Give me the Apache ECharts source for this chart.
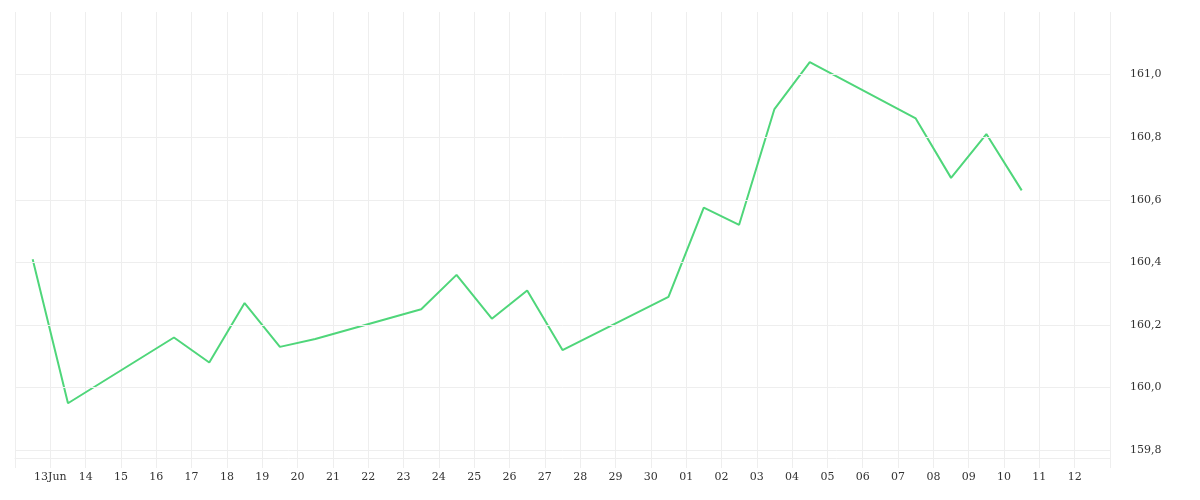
<!DOCTYPE html>
<html><head><meta charset="utf-8">
<script src="https://cdn.jsdelivr.net/npm/echarts@6/dist/echarts.min.js"></script>
<style>html,body{margin:0;padding:0;background:#fff}#c{width:1200px;height:500px}</style>
</head><body><div id="c"></div>
<script>
// dates as [month (0-based), day, hour]
const pointDates = [[5,12,12],[5,13,12],[5,16,12],[5,17,12],[5,18,12],[5,19,12],[5,20,12],[5,23,12],[5,24,12],[5,25,12],[5,26,12],[5,27,12],[5,30,12],[6,1,12],[6,2,12],[6,3,12],[6,4,12],[6,7,12],[6,8,12],[6,9,12],[6,10,12]];
const values = [160.41,159.95,160.16,160.08,160.27,160.13,160.155,160.25,160.36,160.22,160.31,160.12,160.29,160.575,160.52,160.89,161.04,160.86,160.67,160.81,160.63];
const yTicks = [159.8,160.0,160.2,160.4,160.6,160.8,161.0];
const YEAR = 2024;
const data = pointDates.map((d,i)=>[new Date(YEAR,d[0],d[1],d[2]).getTime(), values[i]]);
const font = 'DejaVu Serif';
const chart = echarts.init(document.getElementById('c'));
chart.setOption({
  animation:false,
  grid:{left:15,right:90,top:12,bottom:42},
  xAxis:{type:'time', min:new Date(YEAR,5,12).getTime(), max:new Date(YEAR,6,13).getTime(),
    minInterval:86400000, maxInterval:86400000,
    axisLine:{show:true,lineStyle:{color:'#eeeeee'}},
    axisTick:{show:true,length:10,lineStyle:{color:'#eeeeee'}},
    splitLine:{show:true,lineStyle:{color:'#eeeeee'}},
    axisLabel:{color:'#333',fontFamily:font,fontSize:11,margin:14,hideOverlap:false,
      formatter:function(v){const d=new Date(v);const m=d.getMonth(),day=d.getDate();
        if((m===5&&day===12)||(m===6&&day===13))return '';
        const s=(day<10?'0':'')+day; return (m===5&&day===13)?s+'Jun':s;}}
  },
  yAxis:{type:'value', position:'right', min:159.775, max:161.2, interval:0.025,
    splitLine:{show:false}, axisLine:{show:false}, axisTick:{show:false},
    axisLabel:{color:'#333',fontFamily:font,fontSize:11,margin:20,interval:0,hideOverlap:false,
      formatter:function(v){return yTicks.some(t=>Math.abs(t-v)<1e-6)?v.toFixed(1).replace('.',','):'';}}
  },
  series:[{type:'line',data:data,showSymbol:false,symbol:'none',
    lineStyle:{color:'#4fd67a',width:2},itemStyle:{color:'#4fd67a'},
    markLine:{silent:true,symbol:'none',label:{show:false},lineStyle:{color:'#eeeeee',type:'solid',width:1},
      data:yTicks.map(t=>({yAxis:t}))}
  }]
});
</script></body></html>
